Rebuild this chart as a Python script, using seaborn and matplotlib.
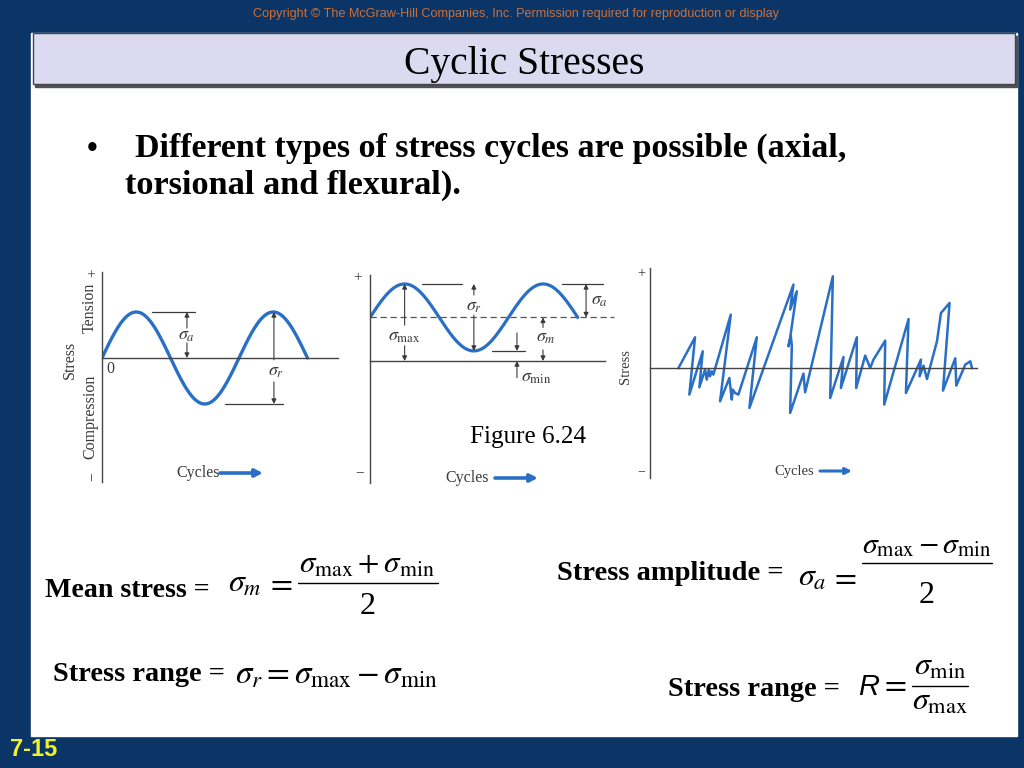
import numpy as np
import matplotlib
matplotlib.use("Agg")
import matplotlib.pyplot as plt
import seaborn as sns
from matplotlib.patches import Rectangle

# ---------------- data ----------------
# Fully reversed cycle (left diagram)
P1_SIGMA_MAX = 1.0
P1_SIGMA_MIN = -1.0
P1_N_CYCLES = 1.5
# Repeated cycle with tensile mean (middle diagram)
P2_SIGMA_MAX = 2.3
P2_SIGMA_MIN = 0.3
P2_N_CYCLES = 1.5
# Random stress cycle (right diagram)
RAND_CYCLES = [28.3, 45.0, 39.3, 52.7, 49.3, 55.0, 56.7, 58.7, 60.0, 61.7, 63.3,
               80.7, 70.0, 79.3, 81.7, 82.7, 85.0, 88.3, 106.7, 99.3, 143.3, 140.0,
               146.7, 140.0, 138.3, 140.7, 141.7, 140.0, 153.3, 155.0, 182.7, 180.0,
               193.3, 190.7, 206.7, 206.0, 215.0, 220.0, 223.3, 235.0, 234.0, 258.3,
               255.7, 270.7, 269.3, 273.3, 276.7, 286.7, 290.7, 299.3, 292.7, 305.0,
               306.0, 315.0, 320.0, 321.7]
RAND_STRESS = [0, 31, -26.3, 17, -19, -1.3, -11.3, -1.3, -8, -3, -6.3,
               53.7, -33, -9.7, -31.3, -21.3, -24.7, -26.3, 31, -39.7, 83.7, 58.7,
               77, 30.3, 22, 32, 22.7, -44.7, -5.3, -24, 92, -29.7,
               11.3, -19.7, 31, -19.7, 12.7, 0.3, 8.7, 27.7, -36.3, 49.3,
               -24.7, 8.7, -8, 2.7, -10.7, 27, 55.3, 65.3, -22.3, 10,
               -17.3, 3.7, 7, 0]

COPYRIGHT = "Copyright \u00a9 The McGraw-Hill Companies, Inc. Permission required for reproduction or display"
TITLE = "Cyclic Stresses"
BULLET_1 = "Different types of stress cycles are possible (axial,"
BULLET_2 = "torsional and flexural)."
FIG_LABEL = "Figure 6.24"
SLIDE_NO = "7-15"

# ---------------- style ----------------
sns.set_style("white")
plt.rcParams["font.family"] = ["Liberation Serif", "DejaVu Serif"]
plt.rcParams["mathtext.fontset"] = "stix"

W, H = 1024, 768
NAVY = "#0b3567"
BLUE = "#2a6fc6"
INK = "#3a3a3a"

fig = plt.figure(figsize=(W / 100, H / 100), dpi=100)
bg = fig.add_axes([0, 0, 1, 1])
bg.set_xlim(0, W)
bg.set_ylim(H, 0)
bg.axis("off")

bg.add_patch(Rectangle((0, 0), W, H, color=NAVY, zorder=0))
bg.add_patch(Rectangle((31, 33), 986, 703, color="white", zorder=1))
bg.add_patch(Rectangle((35, 36), 982, 51, color="#505058", zorder=1.5))
bg.add_patch(Rectangle((33, 33), 982, 51, facecolor="#dcdaf0", edgecolor="#444444", lw=1, zorder=2))

renderer = fig.canvas.get_renderer()


def fit(t, target_w):
    bb = t.get_window_extent(renderer=renderer)
    if bb.width > 0:
        t.set_fontsize(t.get_fontsize() * target_w / bb.width)
    return t


def txt(x, y, s, size, target_w=None, **kw):
    kw.setdefault("zorder", 5)
    t = bg.text(x, y, s, fontsize=size, **kw)
    if target_w:
        fit(t, target_w)
    return t


# header
txt(516, 17, COPYRIGHT, 9.5, 527, ha="center", va="baseline", color="#c8703c",
    family=["Liberation Sans Narrow", "Liberation Sans", "DejaVu Sans"])
txt(524, 74, TITLE, 28, 241, ha="center", va="baseline", color="black")

# bullet
txt(92, 157, "\u2022", 22, ha="center", va="baseline", color="black", fontweight="bold")
txt(135, 157, BULLET_1, 26, 713, ha="left", va="baseline", color="black", fontweight="bold")
txt(125, 194, BULLET_2, 26, 337, ha="left", va="baseline", color="black", fontweight="bold")

# slide number
txt(10, 756, SLIDE_NO, 17, ha="left", va="baseline", color="#f2f22a", fontweight="bold",
    family=["Liberation Sans", "DejaVu Sans"])


# ---------------- diagram axes helpers ----------------
def px_axes(x0, y0, x1, y1):
    return fig.add_axes([x0 / W, 1 - y1 / H, (x1 - x0) / W, (y1 - y0) / H])


def style(ax, xlim, ylim):
    ax.set_xlim(*xlim)
    ax.set_ylim(*ylim)
    ax.patch.set_alpha(0)
    for s in ("top", "right"):
        ax.spines[s].set_visible(False)
    ax.spines["bottom"].set_position(("data", 0))
    for s in ("left", "bottom"):
        ax.spines[s].set_color("#444444")
        ax.spines[s].set_linewidth(1.0)
    ax.set_xticks([])
    ax.set_yticks([])
    ax.set_xlabel("")
    ax.set_ylabel("")


def arrow(ax, x, y_from, y_to):
    ax.annotate("", xy=(x, y_to), xytext=(x, y_from),
                arrowprops=dict(arrowstyle="-|>", color=INK, lw=0.8, mutation_scale=7,
                                shrinkA=0, shrinkB=0), annotation_clip=False)


def hline(ax, x0, x1, y, **kw):
    ax.plot([x0, x1], [y, y], color=INK, lw=0.9, clip_on=False, **kw)


def sine(smax, smin, ncyc):
    t = np.linspace(0, ncyc, 400)
    mean = (smax + smin) / 2
    amp = (smax - smin) / 2
    return t, mean + amp * np.sin(2 * np.pi * t)


def cycles_label(x, y, ax_left):
    txt(x, y, "Cycles", 11.5, ha="center", va="center", color=INK)
    bg.annotate("", xy=(ax_left + 43, y), xytext=(ax_left, y),
                arrowprops=dict(arrowstyle="-|>", color=BLUE, lw=2.6, mutation_scale=11,
                                shrinkA=0, shrinkB=0), zorder=5)


# ---------------- diagram 1 ----------------
ax1 = px_axes(102, 272, 338, 482)
t1, s1 = sine(P1_SIGMA_MAX, P1_SIGMA_MIN, P1_N_CYCLES)
sns.lineplot(x=t1, y=s1, ax=ax1, sort=False, estimator=None, color=BLUE, lw=2.4)
style(ax1, (0, 236 / 137), (-124 / 46, 86 / 46))
hline(ax1, 0.365, 0.679, P1_SIGMA_MAX)
arrow(ax1, 0.62, 0.65, P1_SIGMA_MAX)
arrow(ax1, 0.62, 0.33, 0)
ax1.text(0.62, 0.5, r"$\sigma_a$", fontsize=13, ha="center", va="center", color=INK)
hline(ax1, 0.898, 1.321, P1_SIGMA_MIN)
arrow(ax1, 1.255, -0.04, P1_SIGMA_MAX)
arrow(ax1, 1.255, -0.52, P1_SIGMA_MIN)
ax1.text(1.27, -0.30, r"$\sigma_r$", fontsize=13, ha="center", va="center", color=INK)

txt(70, 360, "Stress", 11.5, ha="center", va="center", rotation=90, color=INK)
txt(90, 308, "Tension", 11.5, ha="center", va="center", rotation=90, color=INK)
txt(90, 417, "Compression", 11.5, ha="center", va="center", rotation=90, color=INK)
txt(93, 273, "+", 11, ha="center", va="center", rotation=90, color=INK)
txt(92, 477, "\u2212", 11, ha="center", va="center", rotation=90, color=INK)
txt(110, 369, "0", 11.5, ha="center", va="center", color=INK)
cycles_label(198, 473, 220)

# ---------------- diagram 2 ----------------
ax2 = px_axes(370, 275, 605, 483)
t2, s2 = sine(P2_SIGMA_MAX, P2_SIGMA_MIN, P2_N_CYCLES)
sns.lineplot(x=t2, y=s2, ax=ax2, sort=False, estimator=None, color=BLUE, lw=2.3)
style(ax2, (0, 235 / 138.5), (-122 / 33.5, 86 / 33.5))
p2_mean = (P2_SIGMA_MAX + P2_SIGMA_MIN) / 2
ax2.plot([0, 1.762], [p2_mean, p2_mean], color="#555555", lw=0.9, ls=(0, (5, 3)), clip_on=False)
# sigma max
arrow(ax2, 0.25, 1.07, P2_SIGMA_MAX)
arrow(ax2, 0.25, 0.45, 0)
ax2.text(0.25, 0.72, r"$\sigma_{\mathrm{max}}$", fontsize=13, ha="center", va="center", color=INK)
# sigma r
hline(ax2, 0.375, 0.664, P2_SIGMA_MAX)
arrow(ax2, 0.75, 1.97, P2_SIGMA_MAX)
arrow(ax2, 0.75, 1.37, P2_SIGMA_MIN)
ax2.text(0.75, 1.63, r"$\sigma_r$", fontsize=13, ha="center", va="center", color=INK)
# sigma min
hline(ax2, 0.881, 1.119, P2_SIGMA_MIN)
arrow(ax2, 1.061, 0.84, P2_SIGMA_MIN)
arrow(ax2, 1.061, -0.50, 0)
ax2.text(1.20, -0.48, r"$\sigma_{\mathrm{min}}$", fontsize=13, ha="center", va="center", color=INK)
# sigma m
arrow(ax2, 1.249, 1.00, p2_mean)
arrow(ax2, 1.249, 0.33, 0)
ax2.text(1.27, 0.70, r"$\sigma_m$", fontsize=13, ha="center", va="center", color=INK)
# sigma a
hline(ax2, 1.386, 1.682, P2_SIGMA_MAX)
ax2.annotate("", xy=(1.56, P2_SIGMA_MAX), xytext=(1.56, p2_mean),
             arrowprops=dict(arrowstyle="<|-|>", color=INK, lw=0.8, mutation_scale=7,
                             shrinkA=0, shrinkB=0), annotation_clip=False)
ax2.text(1.655, 1.80, r"$\sigma_a$", fontsize=13, ha="center", va="center", color=INK)

txt(358, 278, "+", 11, ha="center", va="center", color=INK)
txt(360, 473, "\u2212", 11, ha="center", va="center", color=INK)
txt(528, 437, FIG_LABEL, 18, 116, ha="center", va="center", color="black")
cycles_label(467, 478, 495)

# ---------------- diagram 3 ----------------
ax3 = px_axes(650, 268, 977, 478)
sns.lineplot(x=RAND_CYCLES, y=RAND_STRESS, ax=ax3, sort=False, estimator=None, color=BLUE, lw=1.8)
style(ax3, (0, 326.7), (-109.7, 100.3))
txt(625, 367, "Stress", 10.5, ha="center", va="center", rotation=90, color=INK)
txt(641, 274, "+", 10, ha="center", va="center", color=INK)
txt(641, 472, "\u2212", 10, ha="center", va="center", color=INK)
txt(794, 471, "Cycles", 10.5, ha="center", va="center", color=INK)
bg.annotate("", xy=(852, 471), xytext=(820, 471),
            arrowprops=dict(arrowstyle="-|>", color=BLUE, lw=2.2, mutation_scale=9,
                            shrinkA=0, shrinkB=0), zorder=5)

# ---------------- formulas ----------------
BOLD = dict(color="black", fontweight="bold", va="baseline", ha="left")
MATH = dict(color="black", va="baseline")

txt(45, 597, "Mean stress =", 19, 165, **BOLD)
txt(228, 592, r"$\sigma_m$", 23, ha="left", **MATH)
txt(279, 592, r"$=$", 23, ha="center", **MATH)
txt(367, 573, r"$\sigma_{\mathrm{max}} + \sigma_{\mathrm{min}}$", 23, 136, ha="center", **MATH)
bg.plot([298, 438], [583, 583], color="black", lw=1.0, zorder=5)
txt(368, 614, "2", 23, ha="center", **MATH)

txt(53, 681, "Stress range =", 19, 172, **BOLD)
txt(235, 684, r"$\sigma_r = \sigma_{\mathrm{max}} - \sigma_{\mathrm{min}}$", 23, 203, ha="left", **MATH)

txt(557, 580, "Stress amplitude =", 19, 226, **BOLD)
txt(798, 586, r"$\sigma_a$", 23, ha="left", **MATH)
txt(843, 586, r"$=$", 23, ha="center", **MATH)
txt(927, 553, r"$\sigma_{\mathrm{max}} - \sigma_{\mathrm{min}}$", 23, 130, ha="center", **MATH)
bg.plot([862, 992], [563, 563], color="black", lw=1.0, zorder=5)
txt(927, 603, "2", 23, ha="center", **MATH)

txt(668, 696, "Stress range =", 19, 172, **BOLD)
txt(858, 695, "R", 21, ha="left", color="black", va="baseline", style="italic",
    family=["Liberation Sans", "DejaVu Sans"])
txt(893, 693, r"$=$", 23, ha="center", **MATH)
txt(940, 675, r"$\sigma_{\mathrm{min}}$", 23, ha="center", **MATH)
bg.plot([912, 968], [686, 686], color="black", lw=1.0, zorder=5)
txt(940, 710, r"$\sigma_{\mathrm{max}}$", 23, ha="center", **MATH)

fig.savefig("out.png", dpi=100)
